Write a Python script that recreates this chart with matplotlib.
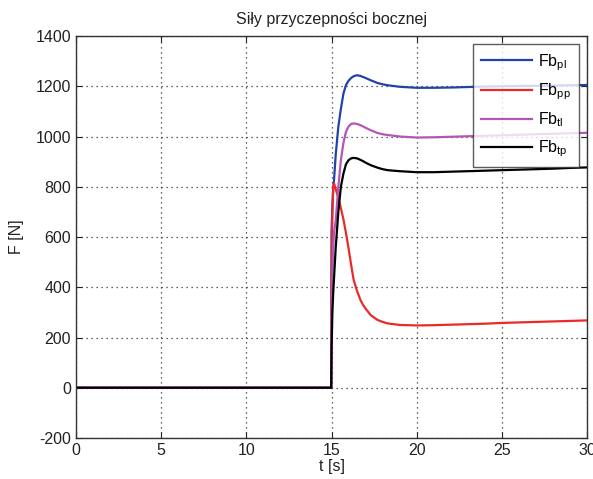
import matplotlib
matplotlib.use("Agg")
import matplotlib.pyplot as plt

plt.rcParams['font.family'] = ['Liberation Sans', 'DejaVu Sans']
plt.rcParams['mathtext.fontset'] = 'custom'
plt.rcParams['mathtext.rm'] = 'Liberation Sans'
plt.rcParams['mathtext.it'] = 'Liberation Sans'
plt.rcParams['axes.unicode_minus'] = False

# time [s]
t = [0, 14.98, 15.0, 15.05, 15.1, 15.15, 15.25, 15.4, 15.55, 15.7, 15.85, 16.0,
     16.15, 16.3, 16.5, 16.7, 16.85, 17.0, 17.3, 17.7, 18.0, 18.3, 19.0, 20, 21,
     22, 23, 24, 25, 26, 27, 28, 29, 30]

# lateral adhesion forces [N]
fb_pl = [0, 0, 620, 720, 790, 830, 930, 1039, 1110, 1171, 1205, 1222, 1233, 1240,
         1244, 1241, 1237, 1233, 1224, 1213, 1208, 1204, 1198, 1194, 1194, 1195,
         1197, 1199, 1200, 1201, 1202, 1203, 1204, 1205]
fb_pp = [0, 0, 400, 700, 800, 813, 790, 755, 715, 670, 615, 555, 490, 429, 385,
         349, 330, 315, 289, 270, 262, 256, 250, 248, 249, 251, 253, 255, 258,
         260, 262, 264, 266, 268]
fb_tl = [0, 0, 300, 450, 560, 620, 667, 800, 906, 975, 1019, 1040, 1050, 1052,
         1050, 1045, 1040, 1035, 1025, 1014, 1009, 1006, 1000, 996, 997, 999,
         1001, 1003, 1005, 1007, 1009, 1011, 1013, 1015]
fb_tp = [0, 0, 150, 300, 380, 440, 561, 700, 800, 853, 890, 906, 913, 915, 913,
         907, 902, 896, 886, 876, 870, 866, 862, 858, 858, 860, 862, 864, 866,
         868, 870, 872, 875, 877]

labels = [r'Fb$_{pl}$', r'Fb$_{pp}$', r'Fb$_{tl}$', r'Fb$_{tp}$']
colors = ['#2342a8', '#ea2a2a', '#b556b5', '#000000']

x_ticks = [0, 5, 10, 15, 20, 25, 30]
y_ticks = [-200, 0, 200, 400, 600, 800, 1000, 1200, 1400]

fig = plt.figure(figsize=(5.93, 4.79), dpi=100)
ax = fig.add_axes([0.1282, 0.0856, 0.8617, 0.8392])

for series, lab, col in zip([fb_pl, fb_pp, fb_tl, fb_tp], labels, colors):
    ax.plot(t, series, color=col, lw=1.6, label=lab)

ax.set_xlim(0, 30)
ax.set_ylim(-200, 1400)
ax.set_xticks(x_ticks)
ax.set_yticks(y_ticks)
ax.grid(True, color='#333333', linestyle=(0, (1, 3)), linewidth=0.9)
ax.tick_params(direction='in', top=True, right=True, labelsize=11.5,
               colors='#222222', length=4)
for sp in ax.spines.values():
    sp.set_color('#333333')
    sp.set_linewidth(1.0)

ax.set_title('Siły przyczepności bocznej', fontsize=11.5, color='#222222', pad=9)
ax.set_xlabel('t [s]', fontsize=11.5, color='#222222', labelpad=1)
ax.set_ylabel('F [N]', fontsize=11.5, color='#222222', labelpad=8)

leg = ax.legend(loc='upper right', fontsize=11.5, frameon=True, fancybox=False,
                edgecolor='#333333', handlelength=3.2, borderaxespad=0.5,
                labelspacing=0.55, borderpad=0.5, handletextpad=0.4)
leg.get_frame().set_linewidth(1.0)

fig.savefig('out.png', dpi=100, facecolor='white')
